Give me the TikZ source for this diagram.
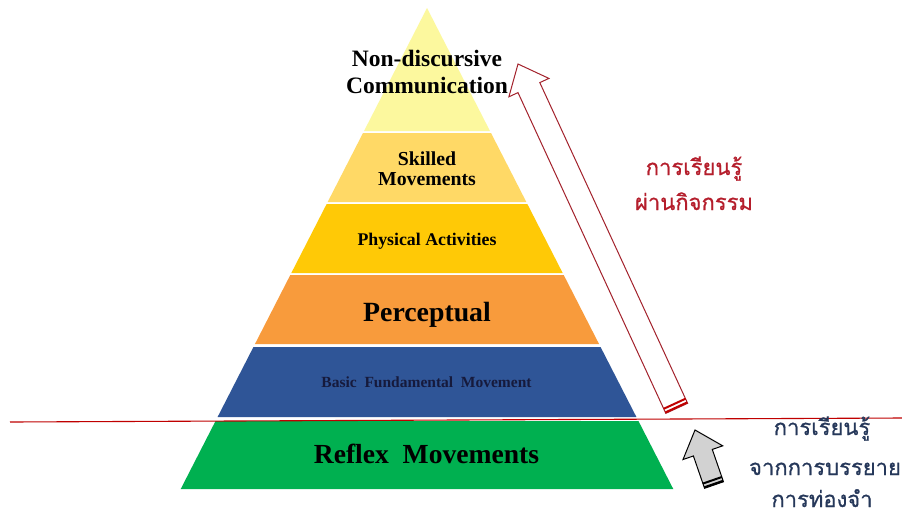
\documentclass[tikz,border=0pt]{standalone}
\usepackage{fontspec}
\setmainfont{Liberation Serif}
\newfontfamily\thaifont[Script=Thai,FakeBold=0.6]{Loma}
\definecolor{layA}{HTML}{FCF89E}
\definecolor{layB}{HTML}{FFD966}
\definecolor{layC}{HTML}{FFC906}
\definecolor{layD}{HTML}{F89B3C}
\definecolor{layE}{HTML}{2F5597}
\definecolor{layF}{HTML}{00B050}
\definecolor{arrred}{HTML}{A3222C}
\definecolor{linered}{HTML}{C00000}
\definecolor{thaired}{HTML}{B51E2C}
\definecolor{thaiblue}{HTML}{26385A}
\definecolor{navytext}{HTML}{161A3C}
\definecolor{arrgray}{HTML}{D2D2D2}
\tikzset{
  lbl/.style={align=center, inner sep=0pt, text=black},
  thaired/.style={anchor=base, inner sep=0pt, text=thaired, font=\thaifont\fontsize{22}{26}\selectfont},
  thaiblue/.style={anchor=base, inner sep=0pt, text=thaiblue, font=\thaifont\fontsize{22}{26}\selectfont},
  redline/.style={draw=linered, line width=1.1pt},
  redarrow/.style={draw=arrred, fill=white, line width=1pt, line join=miter},
  grayarrow/.style={draw=black, fill=arrgray, line width=1pt, line join=miter}
}
\begin{document}
\begin{tikzpicture}[x=1pt,y=-1pt]
\useasboundingbox (0,0) rectangle (902,515);
\fill[white] (0,0) rectangle (902,515);
% pyramid layers
\foreach \t/\b/\c in {8/131/layA, 133/202/layB, 204/273/layC, 275/344/layD, 347/417/layE, 421/489/layF}{
  \fill[\c] ({427-0.512*(\t-8)},\t) -- ({427+0.512*(\t-8)},\t) -- ({427+0.512*(\b-8)},\b) -- ({427-0.512*(\b-8)},\b) -- cycle;
}
% layer labels
\node[lbl, font=\bfseries\fontsize{23.5}{27}\selectfont] (ndc) at (427,72.2) {Non-discursive\\Communication};
\node[lbl, font=\bfseries\fontsize{19.8}{20}\selectfont] (skm) at (427,168.9) {Skilled\\Movements};
\node[lbl, anchor=base, font=\bfseries\fontsize{17.8}{20}\selectfont] (pha) at (427,245) {Physical Activities};
\node[lbl, anchor=base, font=\bfseries\fontsize{27.8}{30}\selectfont] (per) at (427,321.7) {Perceptual};
\node[lbl, anchor=base, text=navytext, font=\bfseries\fontsize{15.5}{18}\selectfont] (bfm) at (426.5,387) {Basic\ \ Fundamental\ \ Movement};
\node[lbl, anchor=base, font=\bfseries\fontsize{27.6}{30}\selectfont] (rfm) at (426.5,463.3) {Reflex\ \ Movements};
% red horizontal line
\coordinate (hl1) at (10,422);
\coordinate (hl2) at (902,418);
\draw[redline] (hl1) -- (hl2);
% red block arrow
\coordinate (rTR) at (687.6,403.28);
\coordinate (rTL) at (665.8,413.32);
\coordinate (rNR) at (539.8,82.6);
\coordinate (rNL) at (518.0,92.6);
\coordinate (rWR) at (548.9,78.4);
\coordinate (rWL) at (508.9,96.8);
\coordinate (rTip) at (518,64);
\draw[redarrow] (rTL) -- (rTR) -- (rNR) -- (rWR) -- (rTip) -- (rWL) -- (rNL) -- cycle;
\fill[linered] (665.8,413.32) -- (687.6,403.28) -- (686.76,401.46) -- (664.96,411.50) -- cycle;
\fill[linered] (664.13,409.69) -- (685.93,399.65) -- (685.09,397.83) -- (663.29,407.87) -- cycle;
% gray block arrow
\coordinate (gTR) at (723.45,481.73);
\coordinate (gTL) at (704.55,488.27);
\coordinate (gNR) at (712.29,449.42);
\coordinate (gNL) at (693.39,455.95);
\coordinate (gWR) at (722.69,445.82);
\coordinate (gWL) at (683.0,459.54);
\coordinate (gTip) at (695,430);
\draw[grayarrow] (gTL) -- (gTR) -- (gNR) -- (gWR) -- (gTip) -- (gWL) -- (gNL) -- cycle;
\fill[black] (704.55,488.27) -- (723.45,481.73) -- (722.80,479.85) -- (703.90,486.38) -- cycle;
\fill[black] (703.24,484.49) -- (722.14,477.96) -- (721.49,476.06) -- (702.59,482.60) -- cycle;
% Thai labels
\node[thaired] (ra1) at (694,175) {การเรียนรู้};
\node[thaired] (ra2) at (694,210) {ผ่านกิจกรรม};
\node[thaiblue] (bl1) at (822,435) {การเรียนรู้};
\node[thaiblue] (bl2) at (825,475) {จากการบรรยาย};
\node[thaiblue] (bl3) at (822,507) {การท่องจำ};
\end{tikzpicture}
\end{document}
